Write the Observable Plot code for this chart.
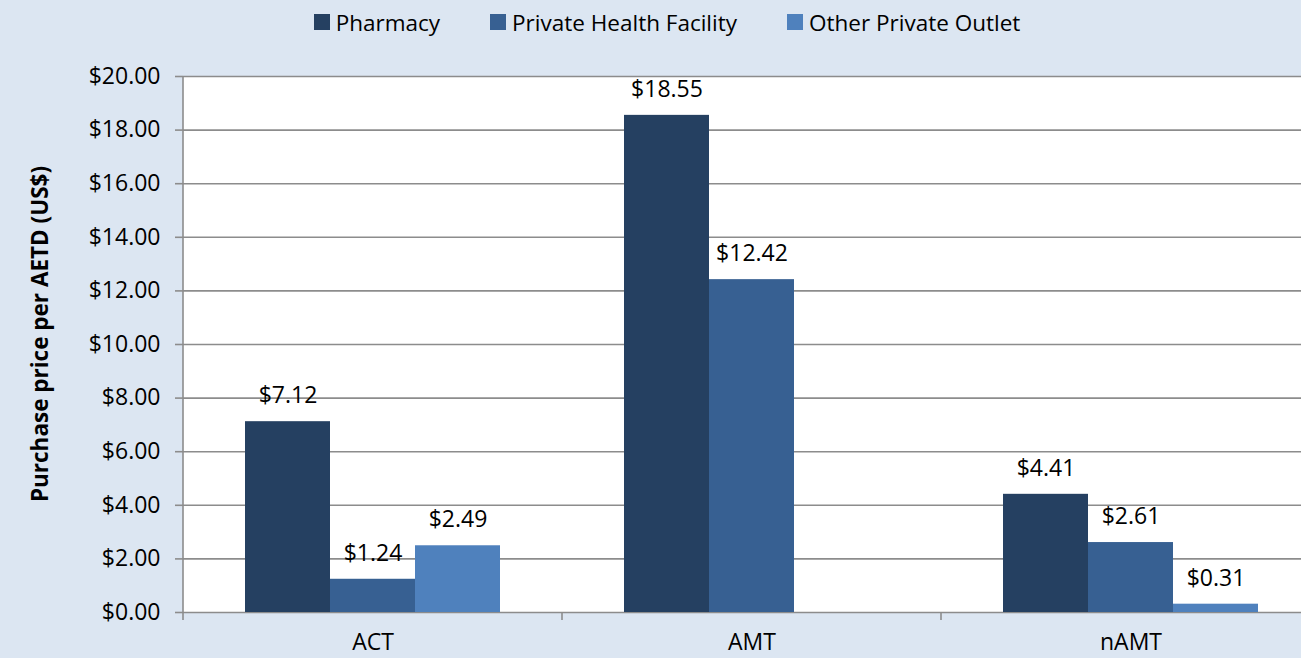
<!DOCTYPE html>
<html>
<head>
<meta charset="utf-8">
<script src="https://cdn.jsdelivr.net/npm/d3@7"></script>
<script src="https://cdn.jsdelivr.net/npm/@observablehq/plot@0.6"></script>
<style>
  html, body { margin: 0; padding: 0; background: #dce6f2; overflow: hidden; }
  #wrap { position: relative; width: 1320px; height: 658px; font-family: "Open Sans", "Noto Sans", sans-serif; color: #000; }
  #legend { height: 44px; display: flex; justify-content: center; align-items: center; font-size: 22.5px; padding-left: 14px; }
  .item { display: flex; align-items: center; margin: 0 25px; }
  .sw { width: 16px; height: 16px; margin-right: 6px; }
  #ylab { position: absolute; left: 39px; top: 334px; transform: translate(-50%, -50%) rotate(-90deg); white-space: nowrap; font-weight: bold; font-size: 22.5px; }
</style>
</head>
<body>
<div id="wrap">
  <div id="legend"></div>
  <div id="chart"></div>
  <div id="ylab"></div>
</div>
<script>
const categories = ["ACT", "AMT", "nAMT"];
const series = ["Pharmacy", "Private Health Facility", "Other Private Outlet"];
const pharmacy = [7.12, 18.55, 4.41];
const privateHealthFacility = [1.24, 12.42, 2.61];
const otherPrivateOutlet = [2.49, null, 0.31];
const colors = ["#254061", "#376092", "#4f81bd"];
const yTicks = [0, 2, 4, 6, 8, 10, 12, 14, 16, 18, 20];
const yLabel = "Purchase price per AETD (US$)";

const valuesBySeries = [pharmacy, privateHealthFacility, otherPrivateOutlet];
const data = [];
categories.forEach((c, i) => {
  series.forEach((s, j) => {
    const v = valuesBySeries[j][i];
    if (v != null) data.push({category: c, series: s, value: v});
  });
});

const fmt = v => "$" + v.toFixed(2);
const grid = "#8c8c8c";

// legend
const legend = document.getElementById("legend");
series.forEach((s, j) => {
  const it = document.createElement("div");
  it.className = "item";
  const sw = document.createElement("div");
  sw.className = "sw";
  sw.style.background = colors[j];
  const t = document.createElement("span");
  t.textContent = s;
  it.appendChild(sw); it.appendChild(t);
  legend.appendChild(it);
});
document.getElementById("ylab").textContent = yLabel;

const plot = Plot.plot({
  width: 1320,
  height: 614,
  marginTop: 32,
  marginBottom: 46,
  marginLeft: 182,
  marginRight: 0,
  style: {background: "transparent", fontFamily: "'Open Sans', 'Noto Sans', sans-serif", fontSize: "23px", color: "#000", overflow: "visible"},
  fx: {domain: categories, padding: 0, label: null, axis: "bottom", tickSize: 0, tickPadding: 21},
  x: {domain: series, axis: null, paddingInner: 0, paddingOuter: 0.71},
  y: {domain: [0, 20], ticks: yTicks, tickFormat: fmt, tickSize: 8, tickPadding: 15, label: null},
  color: {domain: series, range: colors},
  marks: [
    Plot.frame({fill: "white", stroke: null, insetLeft: -0.5, insetRight: -0.5}),
    Plot.ruleY(yTicks, {stroke: grid, strokeWidth: 1.6}),
    Plot.barY(data, {fx: "category", x: "series", y: "value", fill: "series"}),
    Plot.text(data, {fx: "category", x: "series", y: "value", text: d => fmt(d.value), dy: -26, fontSize: 23, fill: "#000"})
  ]
});
document.getElementById("chart").appendChild(plot);

// Excel-style axis line and category boundary ticks, positioned from Plot's scales
const svg = d3.select(plot);
const fx = plot.scale("fx");
const y = plot.scale("y");
const y0 = y.apply(0), yTop = y.apply(20);
svg.selectAll("g[aria-label='y-axis tick'] path, g[aria-label='y-axis tick'] line").attr("stroke", grid).attr("stroke-width", 1.6);
svg.append("line")
  .attr("x1", fx.apply(categories[0])).attr("x2", fx.apply(categories[0]))
  .attr("y1", yTop).attr("y2", y0 + 8)
  .attr("stroke", grid).attr("stroke-width", 1.6);
categories.slice(1).forEach(c => {
  svg.append("line")
    .attr("x1", fx.apply(c)).attr("x2", fx.apply(c))
    .attr("y1", y0).attr("y2", y0 + 8)
    .attr("stroke", grid).attr("stroke-width", 1.6);
});
</script>
</body>
</html>
